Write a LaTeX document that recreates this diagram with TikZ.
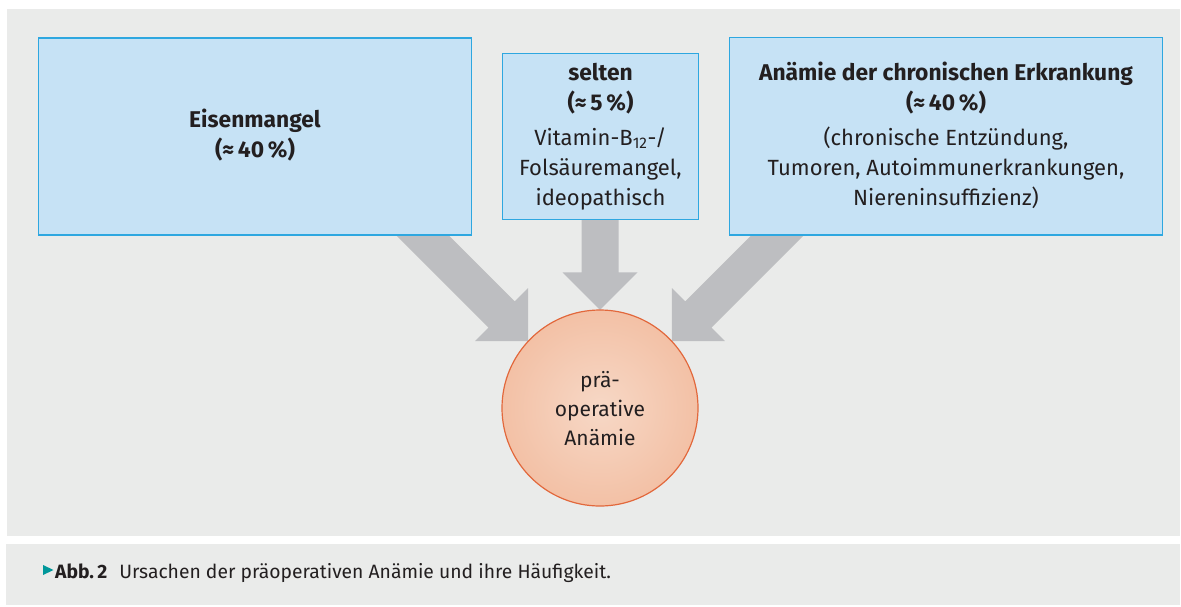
\documentclass[tikz,border=0pt]{standalone}
\usepackage{fontspec}
\setmainfont{Fira Sans}
\usetikzlibrary{calc}
\definecolor{bggray}{HTML}{EAEBEA}
\definecolor{boxfill}{HTML}{C6E2F5}
\definecolor{boxline}{HTML}{2EA7E0}
\definecolor{arrowgray}{HTML}{BDBEC1}
\definecolor{txt}{HTML}{231F20}
\definecolor{pcin}{HTML}{F7D8C6}
\definecolor{pcout}{HTML}{EEA985}
\definecolor{pcline}{HTML}{E2683C}
\definecolor{captri}{HTML}{00979A}
\pgfdeclareradialshading{peach}{\pgfpoint{0bp}{0bp}}{color(0bp)=(pcin); color(50bp)=(pcout)}
\newcommand\myblockarrow[3]{%
  \coordinate (#3b) at ($(#2)!37.5pt!(#1)$);
  \fill[arrowgray] ($(#1)!18.5pt!90:(#2)$) -- ($(#3b)!18.5pt!90:(#2)$) -- ($(#3b)!37.5pt!90:(#2)$) -- (#2)
    -- ($(#3b)!37.5pt!-90:(#2)$) -- ($(#3b)!18.5pt!-90:(#2)$) -- ($(#1)!18.5pt!-90:(#2)$) -- cycle;}
\newcommand\hdfont{\fontsize{22.8}{30}\selectfont\bfseries}
\newcommand\bdfont{\fontsize{22}{30}\selectfont\mdseries}
\tikzset{
  box/.style={draw=boxline, fill=boxfill, line width=1.3pt, inner sep=0pt, outer sep=0pt},
  txtnode/.style={anchor=base, inner sep=0pt, text=txt, font=\fontsize{22}{30}\selectfont},
}
\begin{document}
\begin{tikzpicture}[x=1pt,y=-1pt]
\useasboundingbox (0,0) rectangle (1181,606);
\fill[white] (0,0) rectangle (1181,606);
\fill[bggray] (7,9) rectangle (1180,536);
\fill[bggray] (6,544) rectangle (1180,605);

% circle (placed first for anchors; drawn later on top)
\path (600,408) node[circle, minimum size=196pt, inner sep=0pt] (pa) {};

\coordinate (t1) at (pa.137);
\coordinate (s1) at ($(t1)+(-122,-122)$);
\coordinate (t2) at (pa.north);
\coordinate (s2) at ($(t2)+(0,-92)$);
\coordinate (t3) at (pa.43);
\coordinate (s3) at ($(t3)+(122,-122)$);
\myblockarrow{s1}{t1}{a1}
\myblockarrow{s2}{t2}{a2}
\myblockarrow{s3}{t3}{a3}

\node[box, minimum width=433pt, minimum height=197pt] (b1) at (254.9,136.4) {};
\node[box, minimum width=196pt, minimum height=166pt] (b2) at (600.5,136.4) {};
\node[box, minimum width=433pt, minimum height=197.5pt] (b3) at (946,136.3) {};

\node[circle, minimum size=196pt, inner sep=0pt, draw=pcline, line width=1.2pt, shading=peach] (pc) at (pa) {};

\node[txtnode] (b1t) at (255,127) {\parbox[t]{420pt}{\centering\hdfont Eisenmangel\\(≈\,40\,\%)}};
\node[txtnode] (b2t) at (600.5,80) {\parbox[t]{190pt}{\centering\hdfont selten\\(≈\,5\,\%)\\[5pt]\bdfont Vitamin-B\textsubscript{12}-/\\Folsäuremangel,\\ideopathisch}};
\node[txtnode] (b3t) at (946,80) {\parbox[t]{425pt}{\centering\hdfont Anämie der chronischen Erkrankung\\(≈\,40\,\%)\\[5pt]\bdfont (chronische Entzündung,\\Tumoren, Autoimmunerkrankungen,\\Niereninsuffizienz)}};
\node[txtnode, font=\fontsize{21}{29}\selectfont] (pct) at (600,387) {\parbox[t]{170pt}{\centering prä-\\operative\\Anämie}};

\fill[captri] (43,565) -- (53.5,570) -- (43,575) -- cycle;
\node[anchor=base west, inner sep=0pt, text=txt, font=\fontsize{19.3}{22}\selectfont] (cap) at (55,578) {\textbf{Abb.\,2}\hspace{12pt}Ursachen der präoperativen Anämie und ihre Häufigkeit.};
\end{tikzpicture}
\end{document}
